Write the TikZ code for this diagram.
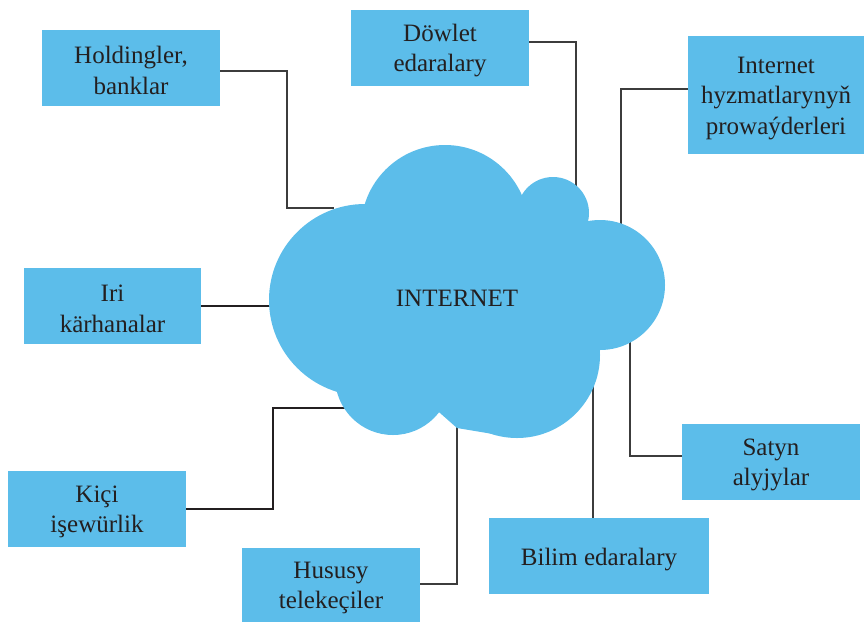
\documentclass[tikz,border=0pt]{standalone}
\usepackage{fontspec}
\setmainfont{Liberation Serif}
\definecolor{sky}{RGB}{92,189,234}
\definecolor{ink}{RGB}{35,31,32}
\definecolor{wire}{RGB}{60,60,60}
\newcommand\fstrut{\rule{0pt}{22.5pt}}
\begin{document}
\begin{tikzpicture}[x=1pt,y=-1pt,
  box/.style={fill=sky, text=ink, align=center, inner sep=0pt,
    font=\fontsize{25}{30.5}\selectfont},
  lnk/.style={draw=wire, line width=1.3pt},
  thick lnk/.style={draw=ink, line width=2.6pt},
  cloudpart/.style={fill=sky, draw=none}]
\useasboundingbox (0,0) rectangle (864,622);

% boxes
\node[box, minimum width=178pt, minimum height=76pt] (hold) at (131,68) {\fstrut Holdingler,\\banklar};
\node[box, minimum width=178pt, minimum height=76pt] (dow) at (440,48) {\fstrut Döwlet\\edaralary};
\node[box, minimum width=176pt, minimum height=118pt] (isp) at (776,95) {\fstrut Internet\\hyzmatlarynyň\\prowaýderleri};
\node[box, minimum width=177pt, minimum height=76pt] (iri) at (112.5,306) {\fstrut Iri\\kärhanalar};
\node[box, minimum width=178pt, minimum height=76pt] (kici) at (97,509) {\fstrut Kiçi\\işewürlik};
\node[box, minimum width=178pt, minimum height=74pt] (hus) at (331,585) {\fstrut Hususy\\telekeçiler};
\node[box, minimum width=220pt, minimum height=76pt] (bil) at (599,556) {\rule{0pt}{25pt}Bilim edaralary};
\node[box, minimum width=178pt, minimum height=76pt] (sat) at (771,462) {\fstrut Satyn\\alyjylar};

% cloud attachment points
\coordinate (c1) at (334,208);
\coordinate (c2) at (576,189);
\coordinate (c3) at (621,225);
\coordinate (c4) at (270,306);
\coordinate (c5) at (350,408);
\coordinate (c6) at (457,425);
\coordinate (c7) at (593,383);
\coordinate (c8) at (630,340);

% connectors
\draw[lnk] ([yshift=-3pt]hold.east) -| ([xshift=-47pt]c1) -- (c1);
\draw[lnk] ([yshift=6pt]dow.east) -| (c2);
\draw[lnk] ([yshift=6pt]isp.west) -| (c3);
\draw[thick lnk] (iri.east) -- (c4);
\draw[thick lnk] (kici.east) -| ([xshift=-77pt]c5) -- (c5);
\draw[lnk] ([yshift=1pt]hus.east) -| (c6);
\draw[lnk] ([xshift=-6pt]bil.north) -- (c7);
\draw[lnk] ([yshift=6pt]sat.west) -| (c8);

% cloud
\fill[cloudpart] (365,300) circle[radius=96];
\fill[cloudpart] (445,229) circle[radius=84];
\fill[cloudpart] (553,213) circle[radius=36];
\fill[cloudpart] (600,285) circle[radius=65];
\fill[cloudpart] (517,355) circle[radius=83];
\fill[cloudpart] (393,377) circle[radius=58];
\fill[cloudpart] (365,300) -- (445,229) -- (553,213) -- (600,285) -- (598,350)
  -- (517,438) -- (457,428) -- (440,413) -- (393,377) -- cycle;
\node[text=ink, font=\fontsize{25}{30}\selectfont] (net) at (457,298) {INTERNET};
\end{tikzpicture}
\end{document}
